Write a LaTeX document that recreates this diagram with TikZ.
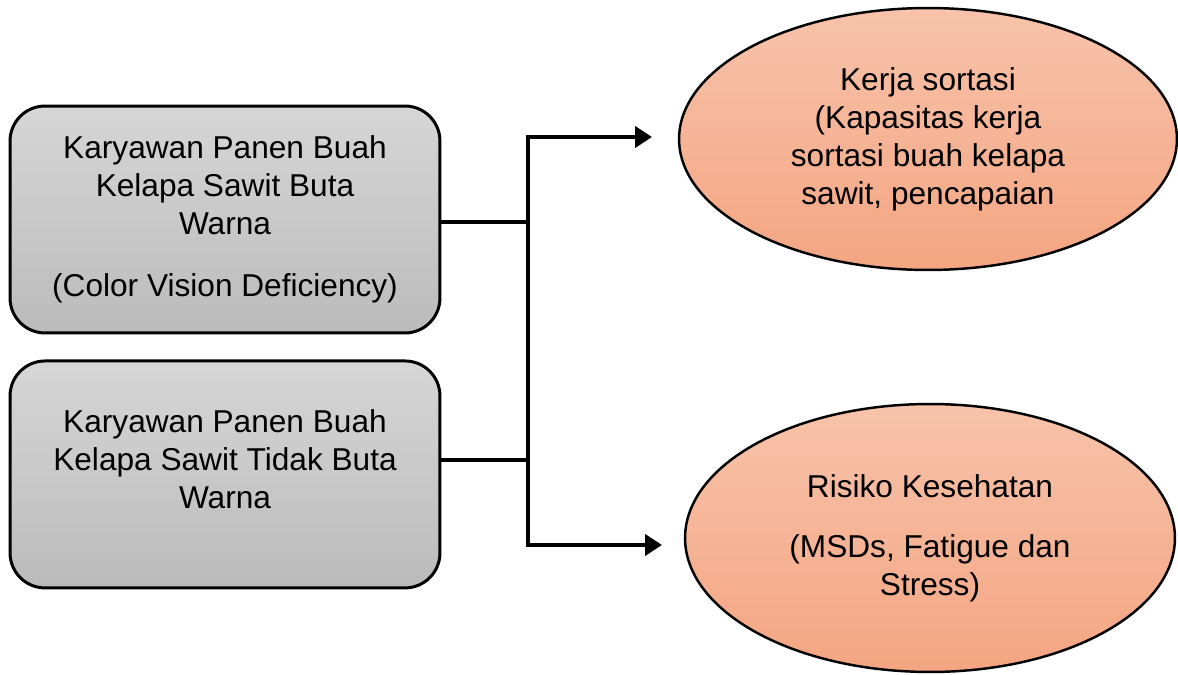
\documentclass[tikz,border=0pt]{standalone}
\usepackage{fontspec}
\setmainfont{Liberation Sans}
\usepackage{xcolor}
\usetikzlibrary{arrows.meta,positioning,shapes.geometric}
\definecolor{boxtop}{HTML}{D6D6D6}
\definecolor{boxbot}{HTML}{BBBBBB}
\definecolor{ovaltop}{HTML}{F7C3AA}
\definecolor{ovalbot}{HTML}{F4A582}

\begin{document}
\begin{tikzpicture}[
  x=0.02cm,y=-0.02cm,
  node distance=0.5cm,
  txt/.style={align=center,font=\fontsize{18}{21.6}\selectfont},
  grp/.style={txt,draw,line width=1.7pt,rounded corners=0.7cm,minimum width=8.6cm,minimum height=4.54cm,top color=boxtop,bottom color=boxbot},
  oval/.style={txt,ellipse,draw,line width=1.4pt,inner sep=0pt,top color=ovaltop,bottom color=ovalbot},
  link/.style={line width=2.6pt},
  arrow/.style={line width=2.8pt,-{Triangle[length=3.4mm,width=4.2mm]}}
]
\useasboundingbox (0,0) rectangle (1178,675);
\node[grp] (cvd) at (225,219.5) {Karyawan Panen Buah\\Kelapa Sawit Buta\\Warna\\[13.7pt](Color Vision Deficiency)};
\node[grp,below=of cvd] (normal) {Karyawan Panen Buah\\Kelapa Sawit Tidak Buta\\Warna\\[-4pt]\mbox{}};
\node[oval,minimum width=9.96cm,minimum height=5.24cm] (sort) at (928,139) {Kerja sortasi\\(Kapasitas kerja\\sortasi buah kelapa\\sawit, pencapaian};
\node[oval,minimum width=9.8cm,minimum height=5.36cm] (risk) at (930,538) {Risiko Kesehatan\\[12.5pt](MSDs, Fatigue dan\\Stress)};
\coordinate (top) at (528,137);
\coordinate (bot) at (528,545);
\coordinate (join1) at (528,222);
\coordinate (join2) at (528,460);
\coordinate (tip1) at (652,137);
\coordinate (tip2) at (662,545);
\draw[link] (cvd.east |- join1) -- (join1);
\draw[link,line width=2pt] (normal.east |- join2) -- (join2);
\draw[arrow] (bot) -- (top) -- (tip1);
\draw[arrow] (top) -- (bot) -- (tip2);
\end{tikzpicture}
\end{document}
